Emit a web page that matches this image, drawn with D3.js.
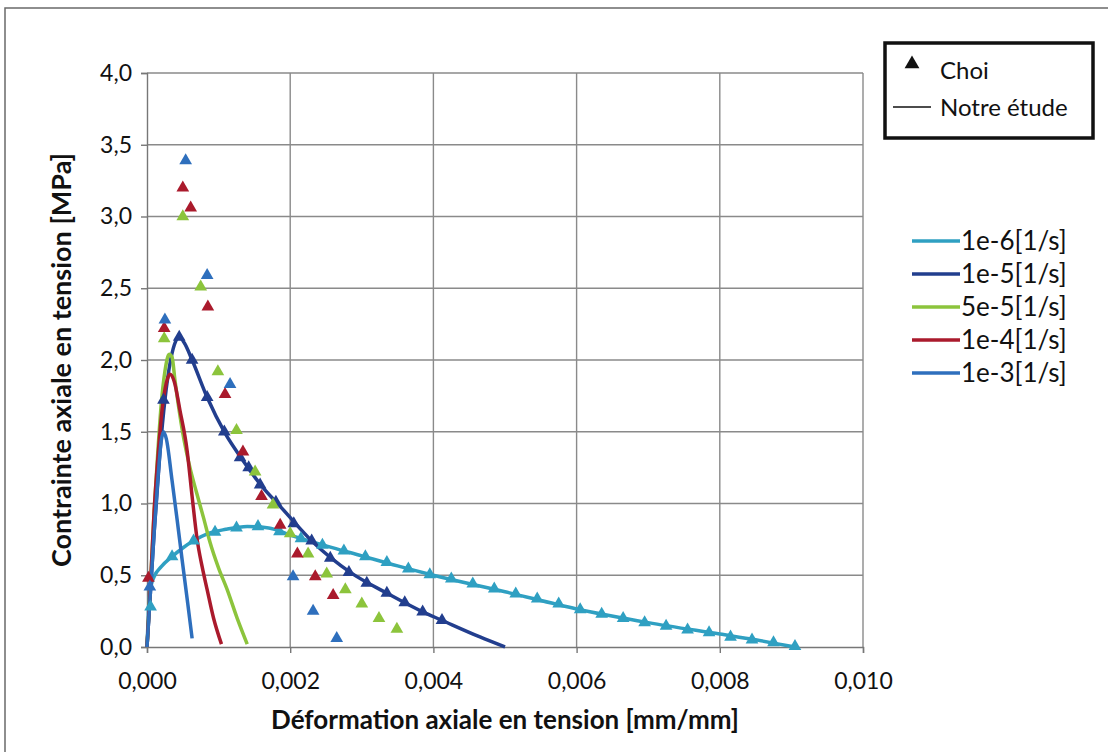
<!DOCTYPE html>
<html><head><meta charset="utf-8">
<script src="https://cdn.jsdelivr.net/npm/d3@7"></script>
<style>body{margin:0;background:#fff;} svg{display:block;font-family:Lato,"Open Sans",sans-serif;}</style>
</head><body>
<svg id="c" width="1108" height="752"></svg>
<script>
// ---- data ----
const xTicks = [0, 0.002, 0.004, 0.006, 0.008, 0.010];
const yTicks = [0, 0.5, 1.0, 1.5, 2.0, 2.5, 3.0, 3.5, 4.0];
const seriesNames = ["1e-6[1/s]", "1e-5[1/s]", "5e-5[1/s]", "1e-4[1/s]", "1e-3[1/s]"];
const seriesColors = ["#2fa0c2", "#223e8e", "#8cc43c", "#aa1a2c", "#2e6fbd"];

// "Notre étude" curves
const line_1e6 = [[0,0],[0.00002,0.25],[0.00005,0.41],[0.0001,0.49],[0.0002,0.56],[0.00035,0.63],[0.0005,0.69],[0.00065,0.74],[0.00085,0.79],[0.0011,0.82],[0.0014,0.84],[0.0017,0.83],[0.002,0.78],[0.0025,0.705],[0.003,0.635],[0.0035,0.565],[0.004,0.50],[0.005,0.385],[0.006,0.265],[0.007,0.17],[0.008,0.09],[0.0085,0.05],[0.00905,0]];
const line_1e5 = [[0,0],[0.00005,0.4],[0.0001,0.8],[0.00018,1.35],[0.00025,1.72],[0.00033,2.0],[0.0004,2.13],[0.00045,2.16],[0.00052,2.12],[0.00063,2.0],[0.00084,1.74],[0.00109,1.49],[0.00134,1.30],[0.00162,1.11],[0.00186,0.98],[0.00232,0.73],[0.00284,0.52],[0.00335,0.375],[0.00385,0.245],[0.0041,0.19],[0.00465,0.07],[0.005,0]];
const line_5e5 = [[0,0],[0.00005,0.45],[0.0001,0.95],[0.00015,1.35],[0.0002,1.7],[0.00025,1.92],[0.00031,2.04],[0.00035,2.02],[0.00039,1.86],[0.0005,1.49],[0.0006,1.25],[0.00069,1.08],[0.00079,0.9],[0.00088,0.73],[0.001,0.55],[0.00112,0.40],[0.00126,0.2],[0.0014,0.02]];
const line_1e4 = [[0,0],[0.00005,0.45],[0.0001,0.95],[0.00016,1.37],[0.00021,1.65],[0.00027,1.84],[0.00032,1.9],[0.00038,1.85],[0.00046,1.65],[0.00056,1.37],[0.00063,1.05],[0.0007,0.75],[0.00077,0.56],[0.00084,0.40],[0.00093,0.2],[0.00104,0.02]];
const line_1e3 = [[0,0],[0.00005,0.4],[0.0001,0.8],[0.00015,1.16],[0.0002,1.44],[0.00023,1.5],[0.00027,1.45],[0.00035,1.16],[0.00042,0.89],[0.00049,0.61],[0.00057,0.3],[0.00063,0.06]];

// "Choi" measurements
const choi_1e6 = [[0.00005,0.28],[0.00035,0.63],[0.00065,0.74],[0.00095,0.80],[0.00125,0.83],[0.00155,0.84],[0.00185,0.805],[0.00215,0.755],[0.00245,0.71],[0.00275,0.67],[0.00305,0.63],[0.00335,0.59],[0.00365,0.545],[0.00395,0.505],[0.00425,0.475],[0.00455,0.44],[0.00485,0.405],[0.00515,0.37],[0.00545,0.335],[0.00575,0.30],[0.00605,0.26],[0.00635,0.23],[0.00665,0.20],[0.00695,0.17],[0.00725,0.145],[0.00755,0.12],[0.00785,0.10],[0.00815,0.07],[0.00845,0.05],[0.00875,0.03],[0.00905,0.005]];
const choi_1e5 = [[0.00023,1.72],[0.00045,2.16],[0.00063,2.0],[0.00084,1.74],[0.00108,1.5],[0.0013,1.32],[0.00142,1.25],[0.00158,1.13],[0.0018,1.01],[0.00205,0.86],[0.0023,0.74],[0.00256,0.62],[0.00282,0.52],[0.00307,0.445],[0.00335,0.375],[0.0036,0.31],[0.00385,0.245],[0.00412,0.185]];
const choi_5e5 = [[0.00024,2.15],[0.0005,3.0],[0.00075,2.51],[0.00099,1.92],[0.00125,1.51],[0.00151,1.22],[0.00176,0.99],[0.002,0.79],[0.00225,0.65],[0.00251,0.51],[0.00277,0.40],[0.003,0.30],[0.00324,0.20],[0.00349,0.125]];
const choi_1e4 = [[0.00002,0.48],[0.00024,2.22],[0.0005,3.2],[0.00061,3.06],[0.00085,2.37],[0.00109,1.76],[0.00134,1.36],[0.0016,1.05],[0.00186,0.85],[0.0021,0.65],[0.00235,0.49],[0.0026,0.36]];
const choi_1e3 = [[0.00004,0.42],[0.00025,2.28],[0.00054,3.39],[0.00084,2.59],[0.00116,1.83],[0.00204,0.49],[0.00232,0.25],[0.00265,0.06]];

const lines = [line_1e6, line_1e5, line_5e5, line_1e4, line_1e3];
const choi = [choi_1e6, choi_1e5, choi_5e5, choi_1e4, choi_1e3];

// ---- chart ----
const FONT = "Lato, 'Open Sans', sans-serif";
const svg = d3.select("#c");
const x = d3.scaleLinear().domain([0, 0.010]).range([147, 863]);
const y = d3.scaleLinear().domain([0, 4]).range([647, 73]);
const loc = d3.formatLocale({decimal: ",", thousands: " ", grouping: [3], currency: ["", ""]});
const fx = loc.format(".3f"), fy = loc.format(".1f");

// outer frame
svg.append("rect").attr("x", 5).attr("y", 8).attr("width", 1110).attr("height", 760)
  .attr("fill", "none").attr("stroke", "#6a6a6a").attr("stroke-width", 1.5);

// grid
const g = svg.append("g");
g.selectAll(".gx").data(xTicks.slice(1)).join("line")
  .attr("x1", d => x(d)).attr("x2", d => x(d)).attr("y1", y(0)).attr("y2", y(4))
  .attr("stroke", "#8a8a8a").attr("stroke-width", 1.4);
g.selectAll(".gy").data(yTicks.slice(1)).join("line")
  .attr("x1", x(0)).attr("x2", x(0.010)).attr("y1", d => y(d)).attr("y2", d => y(d))
  .attr("stroke", "#8a8a8a").attr("stroke-width", 1.4);

// axes
const xa = svg.append("g").attr("transform", `translate(0,${y(0)})`)
  .call(d3.axisBottom(x).tickValues(xTicks).tickFormat(fx).tickSize(6).tickPadding(20));
const ya = svg.append("g").attr("transform", `translate(${x(0)},0)`)
  .call(d3.axisLeft(y).tickValues(yTicks).tickFormat(fy).tickSize(6).tickPadding(9));
[xa, ya].forEach(a => {
  a.select(".domain").attr("stroke", "#777").attr("stroke-width", 1.4);
  a.selectAll(".tick line").attr("stroke", "#777").attr("stroke-width", 1.4);
  a.selectAll("text").attr("font-family", FONT).attr("font-size", 23).attr("fill", "#111");
});

// lines
const lineGen = d3.line().x(d => x(d[0])).y(d => y(d[1])).curve(d3.curveMonotoneX);
lines.forEach((ln, i) => {
  svg.append("path").datum(ln).attr("d", lineGen).attr("fill", "none")
    .attr("stroke", seriesColors[i]).attr("stroke-width", 3.5).attr("stroke-linejoin", "round");
});
// markers
const tri = d3.symbol().type(d3.symbolTriangle).size(70);
choi.forEach((pts, i) => {
  svg.append("g").selectAll("path").data(pts).join("path")
    .attr("d", tri).attr("transform", d => `translate(${x(d[0])},${y(d[1])})`)
    .attr("fill", seriesColors[i]);
});

// axis titles
svg.append("text").attr("x", 505).attr("y", 729).attr("text-anchor", "middle")
  .attr("font-size", 26).attr("font-weight", "bold").attr("fill", "#111")
  .text("Déformation axiale en tension [mm/mm]");
svg.append("text").attr("transform", "translate(71,360) rotate(-90)").attr("text-anchor", "middle")
  .attr("font-size", 27).attr("font-weight", "bold").attr("fill", "#111")
  .text("Contrainte axiale en tension [MPa]");

// legend box (Choi / Notre étude)
svg.append("rect").attr("x", 885).attr("y", 43).attr("width", 208).attr("height", 95)
  .attr("fill", "#fff").attr("stroke", "#111").attr("stroke-width", 3.5);
svg.append("path").attr("d", d3.symbol().type(d3.symbolTriangle).size(95)())
  .attr("transform", "translate(912,64)").attr("fill", "#111");
svg.append("text").attr("x", 940).attr("y", 79).attr("font-size", 24).attr("fill", "#111").text("Choi");
svg.append("line").attr("x1", 893).attr("x2", 931).attr("y1", 107).attr("y2", 107)
  .attr("stroke", "#111").attr("stroke-width", 1.5);
svg.append("text").attr("x", 940).attr("y", 116).attr("font-size", 24).attr("fill", "#111").text("Notre étude");

// series legend
const lg = svg.append("g");
seriesNames.forEach((n, i) => {
  const yy = 241 + i * 33;
  lg.append("line").attr("x1", 912).attr("x2", 960).attr("y1", yy).attr("y2", yy)
    .attr("stroke", seriesColors[i]).attr("stroke-width", 3.5);
  lg.append("text").attr("x", 961).attr("y", yy + 9).attr("font-size", 26).attr("fill", "#111").text(n);
});
</script>
</body></html>
